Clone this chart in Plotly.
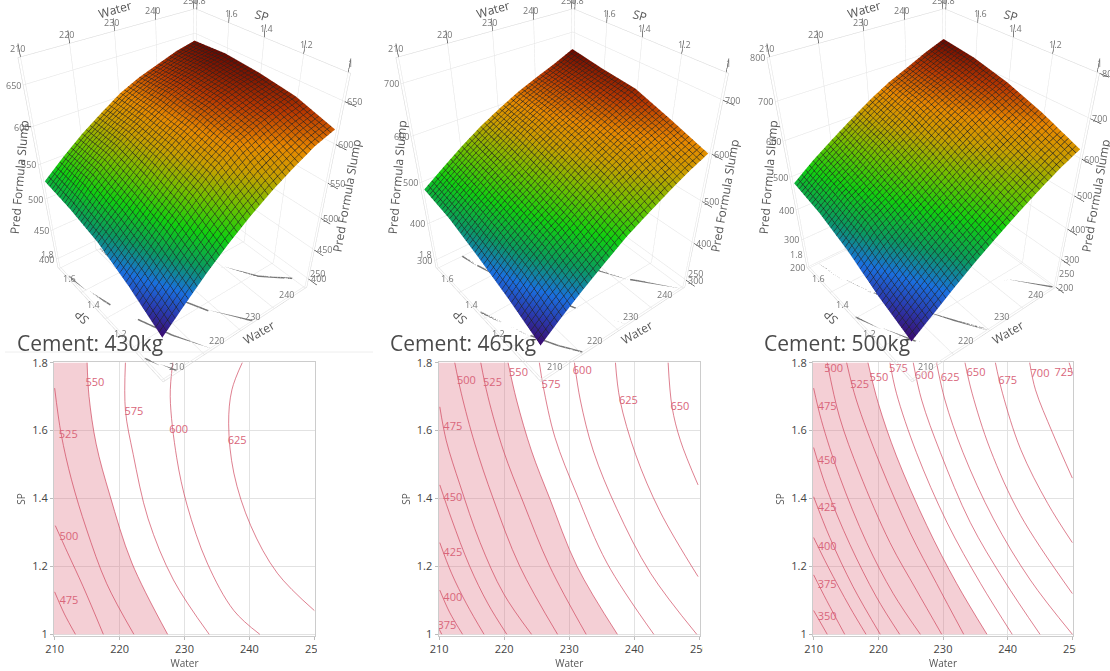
import plotly.graph_objects as go

WATER_GRID = [210, 215, 220, 225, 230, 235, 240, 245, 250]
SP_GRID = [1.0, 1.2, 1.4, 1.6, 1.8]

Z430 = [
    [456, 485, 513, 538, 560, 579, 595, 609, 618],
    [485, 512, 540, 565, 588, 606, 617, 626, 633],
    [508, 532, 556, 581, 600, 616, 627, 635, 640],
    [520, 548, 570, 589, 605, 620, 630, 638, 644],
    [527, 550, 571, 589, 606, 618, 627, 636, 642],
]
Z465 = [
    [372, 411, 447, 480, 512, 537, 561, 583, 601],
    [410, 453, 487, 514, 543, 571, 594, 611, 627],
    [442, 481, 510, 537, 567, 593, 613, 633, 651],
    [470, 501, 531, 557, 586, 609, 628, 644, 658],
    [485, 516, 546, 573, 596, 617, 634, 650, 668],
]
Z500 = [
    [332, 376, 421, 463, 501, 537, 570, 600, 625],
    [372, 420, 465, 503, 537, 574, 606, 636, 664],
    [425, 476, 508, 541, 578, 614, 645, 672, 695],
    [462, 503, 536, 576, 610, 644, 670, 692, 716],
    [483, 525, 562, 597, 631, 660, 683, 707, 727],
]

# contour lines: level -> (water, sp)
C430 = {
    475: ([210, 211.5, 213.2], [1.125, 1.06, 1.0]),
    500: ([210.1, 212, 214.4, 217.5], [1.32, 1.24, 1.14, 1.0]),
    525: ([210, 211, 212.6, 214.9, 218, 222.2], [1.725, 1.59, 1.455, 1.31, 1.15, 1.0]),
    550: ([215, 215.3, 216.4, 218.5, 221.9, 227.4], [1.8, 1.7, 1.56, 1.41, 1.21, 1.0]),
    575: ([220.9, 220.9, 222.1, 224.4, 228.3, 233.8], [1.8, 1.66, 1.53, 1.34, 1.16, 1.0]),
    600: ([228.2, 227.8, 228.8, 230.4, 233.5, 237.6, 241.6], [1.8, 1.7, 1.52, 1.38, 1.21, 1.07, 1.0]),
    625: ([238.9, 237.3, 236.8, 237.6, 240.2, 244.3, 250], [1.8, 1.72, 1.62, 1.475, 1.32, 1.18, 1.07]),
}
C465 = {
    375: ([210, 210.4], [1.015, 1.0]),
    400: ([210.1, 211.6, 213.6], [1.13, 1.065, 1.0]),
    425: ([210.1, 211.9, 214.2, 216.9], [1.27, 1.18, 1.09, 1.0]),
    450: ([210.1, 211.9, 214.7, 217.5, 220.4], [1.44, 1.34, 1.2, 1.09, 1.0]),
    475: ([210.1, 211.1, 213.2, 216.3, 219.9, 224.2], [1.67, 1.57, 1.44, 1.27, 1.12, 1.0]),
    500: ([212.4, 213.4, 215.5, 218.3, 222.4, 228.2], [1.8, 1.71, 1.56, 1.4, 1.2, 1.0]),
    525: ([216.4, 217.5, 219.9, 222.9, 227, 232.6], [1.8, 1.7, 1.54, 1.39, 1.2, 1.0]),
    550: ([220.6, 221.9, 224.2, 227, 231.2, 237.4], [1.8, 1.69, 1.54, 1.4, 1.2, 1.0]),
    575: ([225.4, 226, 227.8, 231.2, 235.8, 243], [1.8, 1.73, 1.58, 1.41, 1.21, 1.0]),
    600: ([230.8, 231.7, 233.7, 237.3, 242.5, 249.6], [1.8, 1.69, 1.54, 1.37, 1.18, 1.0]),
    625: ([237.1, 237.8, 240.2, 244, 249.8], [1.8, 1.69, 1.53, 1.36, 1.17]),
    650: ([245.2, 245.8, 247.1, 249.8], [1.8, 1.67, 1.57, 1.44]),
}
C500 = {
    350: ([210, 212.1], [1.07, 1.0]),
    375: ([210, 212, 214.8], [1.175, 1.1, 1.0]),
    400: ([210, 212.2, 215.6, 218.1], [1.285, 1.2, 1.08, 1.0]),
    425: ([210, 212.5, 216.1, 220.3], [1.405, 1.285, 1.14, 1.0]),
    450: ([210, 212, 215.6, 219.7, 223.3], [1.55, 1.43, 1.265, 1.11, 1.0]),
    475: ([210, 211.2, 214, 218.2, 222.3, 226.5], [1.725, 1.63, 1.465, 1.27, 1.12, 1.0]),
    500: ([212.1, 214, 217.1, 221.8, 225.9, 229.8], [1.8, 1.64, 1.475, 1.27, 1.13, 1.0]),
    525: ([215.1, 216.6, 220.2, 224.9, 229, 233.2], [1.8, 1.69, 1.505, 1.3, 1.15, 1.0]),
    550: ([218.4, 220, 222.8, 227.5, 232.1, 236.8], [1.8, 1.68, 1.525, 1.32, 1.15, 1.0]),
    575: ([221.8, 222.8, 225.9, 230.6, 235.8, 240.7], [1.8, 1.71, 1.535, 1.33, 1.15, 1.0]),
    600: ([225.4, 226.7, 229.6, 234.2, 239.4, 245], [1.8, 1.69, 1.535, 1.33, 1.16, 1.0]),
    625: ([229, 230.3, 233.1, 237.8, 243.5, 250], [1.8, 1.69, 1.535, 1.34, 1.16, 1.0]),
    650: ([233.4, 234.5, 237.3, 242, 250], [1.8, 1.71, 1.545, 1.35, 1.12]),
    675: ([238.1, 239.2, 242, 246.2, 250], [1.8, 1.71, 1.545, 1.385, 1.27]),
    700: ([243.4, 244.3, 246.9, 250], [1.8, 1.72, 1.595, 1.46]),
    725: ([249.5, 250], [1.8, 1.77]),
}
L430_W = [212.2, 212.2, 212.1, 216.2, 222.2, 229.1, 238.1]
L430_S = [1.096, 1.285, 1.587, 1.74, 1.655, 1.6, 1.57]
L430_T = ["475", "500", "525", "550", "575", "600", "625"]
L465_W = [211.2, 212.1, 212.1, 212.1, 212.1, 214.2, 218.2, 222.2, 227.2, 232, 239.1, 247]
L465_S = [1.025, 1.105, 1.24, 1.4, 1.61, 1.745, 1.74, 1.77, 1.735, 1.775, 1.685, 1.67]
L465_T = ["375", "400", "425", "450", "475", "500", "525", "550", "575", "600", "625", "650"]
L500_W = [212.1, 212.1, 212.1, 212.1, 212.1, 212.1, 213.1, 217.1, 220.1, 223.1, 227.1, 231.1, 235.1, 240, 245, 248.7]
L500_S = [1.05, 1.145, 1.255, 1.37, 1.51, 1.67, 1.78, 1.735, 1.755, 1.78, 1.76, 1.755, 1.77, 1.745, 1.765, 1.77]
L500_T = ["350", "375", "400", "425", "450", "475", "500", "525", "550", "575", "600", "625", "650", "675", "700", "725"]

FILL_LEVEL = 550
WATER_TICKS = [210, 220, 230, 240, 250]
SP_TICKS = [1, 1.2, 1.4, 1.6, 1.8]
WATER_BOX = [209.5, 250.5]
SP_BOX = [0.99, 1.81]
Z_TICKS_430 = [400, 450, 500, 550, 600, 650]
Z_TICKS_465 = [300, 400, 500, 600, 700]
Z_TICKS_500 = [200, 300, 400, 500, 600, 700, 800]
TITLES = ["Cement: 430kg", "Cement: 465kg", "Cement: 500kg"]

COLORS = [[0, "#3b0a6e"], [0.1, "#2a3bb0"], [0.2, "#1a70e0"], [0.32, "#0a9a60"], [0.45, "#10d010"],
          [0.58, "#70c000"], [0.7, "#c8a000"], [0.8, "#e88800"], [0.9, "#b83800"], [1, "#6a0800"]]
W, H = 1110, 671
GREY = "#555555"
TICK = "#777777"
LINE = "rgba(205,60,85,0.65)"

panels = [
    dict(z=Z430, c=C430, lw=L430_W, ls=L430_S, lt=L430_T, zt=Z_TICKS_430, zr=[385, 680], floor=[625, 575, 525, 475],
         dom=(0, 360), px=(54, 315), title_x=15, cut=317),
    dict(z=Z465, c=C465, lw=L465_W, ls=L465_S, lt=L465_T, zt=Z_TICKS_465, zr=[280, 745], floor=[600, 525, 450],
         dom=(372, 744), px=(438.5, 700), title_x=388, cut=703),
    dict(z=Z500, c=C500, lw=L500_W, ls=L500_S, lt=L500_T, zt=Z_TICKS_500, zr=[200, 800], floor=[625, 500, 425],
         dom=(749, 1109), px=(813, 1073), title_x=762, cut=1076),
]

fig = go.Figure()
annotations = []
shapes = []
scene_keys = ["scene", "scene2", "scene3"]
xa_names = ["xaxis", "xaxis2", "xaxis3"]
ya_names = ["yaxis", "yaxis2", "yaxis3"]
layout = {}


def label(x, y, z, text, dx=0, dy=0, angle=0, size=9, color=TICK):
    return dict(x=x, y=y, z=z, text=text, showarrow=False, xshift=dx, yshift=dy, textangle=angle,
                font=dict(size=size, color=color, family="Open Sans"))


for i, p in enumerate(panels):
    sk = scene_keys[i]
    zmin, zmax = p["zr"]
    zmid = (zmin + zmax) / 2
    flat = [v for row in p["z"] for v in row]
    fig.add_trace(go.Surface(
        x=WATER_GRID, y=SP_GRID, z=p["z"], scene=sk, colorscale=COLORS, showscale=False,
        cmin=min(flat), cmax=max(flat), hoverinfo="skip",
        lighting=dict(ambient=1.0, diffuse=0.0, specular=0.0, roughness=1, fresnel=0),
        contours=dict(
            x=dict(show=True, start=210, end=250, size=1, color="#222222", width=1),
            y=dict(show=True, start=1.0, end=1.8, size=0.02, color="#222222", width=1),
            z=dict(show=False),
        ),
    ))
    for lv in p["floor"]:
        wx, sy = p["c"][lv]
        fig.add_trace(go.Scatter3d(x=wx, y=sy, z=[zmin] * len(wx), scene=sk, mode="lines",
                                   line=dict(color="#777777", width=3), hoverinfo="skip", showlegend=False))
    axis = dict(showbackground=False, gridcolor="#e2e2e2", gridwidth=1, showline=True, linecolor="#d5d5d5", mirror="all",
                zeroline=False, showspikes=False, showticklabels=False, ticks="", title=dict(text=""))
    wlo, whi = WATER_BOX[0] + 0.05, WATER_BOX[1] - 0.05
    slo, shi = SP_BOX[0] + 0.001, SP_BOX[1] - 0.001
    top, bot = zmax - 0.1, zmin + 0.1
    sa = []
    for w in WATER_TICKS:
        sa.append(label(w, shi, top, str(w), dx=-3, dy=9))
        sa.append(label(w, slo, bot, str(w), dx=12, dy=14))
    for s in SP_TICKS:
        sa.append(label(whi, s, top, str(s), dx=3, dy=9))
        if s > 1:
            sa.append(label(wlo, s, bot, str(s), dx=-12, dy=14))
    for v in p["zt"]:
        sa.append(label(wlo, shi, v, str(v), dx=-10))
        sa.append(label(whi, slo, v, str(v), dx=10))
    sa.append(label(230, shi, top, "Water", dx=0, dy=22, angle=-16, size=12, color=GREY))
    sa.append(label(whi, 1.4, top, "SP", dx=-2, dy=22, angle=16, size=12, color=GREY))
    sa.append(label(wlo, shi, zmid, "Pred Formula Slump", dx=-22, angle=-85, size=12, color=GREY))
    sa.append(label(whi, slo, zmid, "Pred Formula Slump", dx=22, angle=-80, size=12, color=GREY))
    sa.append(label(230, slo, bot, "Water", dx=18, dy=-2, angle=-30, size=12, color=GREY))
    sa.append(label(wlo, 1.4, bot, "SP", dx=-24, dy=2, angle=225, size=12, color=GREY))
    layout[sk] = dict(
        domain=dict(x=[p["dom"][0] / W, p["dom"][1] / W], y=[1 - 470 / H, 1.0]),
        aspectmode="manual", aspectratio=dict(x=1, y=1, z=1.25),
        camera=dict(eye=dict(x=-1.43, y=-1.795, z=1.624), center=dict(x=0, y=0, z=-0.314), up=dict(x=0, y=0, z=1)),
        xaxis=dict(axis, range=WATER_BOX, tickvals=WATER_TICKS),
        yaxis=dict(axis, range=SP_BOX, tickvals=SP_TICKS),
        zaxis=dict(axis, range=p["zr"], tickvals=p["zt"]),
        annotations=sa,
    )

    # contour panel
    xn = "x" + ("" if i == 0 else str(i + 1))
    yn = "y" + ("" if i == 0 else str(i + 1))
    fw, fs = p["c"][FILL_LEVEL]
    fig.add_trace(go.Scatter(x=fw, y=fs, xaxis=xn, yaxis=yn, mode="lines", fill="tozerox",
                             fillcolor="rgba(222,105,125,0.32)", line=dict(width=0, shape="spline"),
                             hoverinfo="skip", showlegend=False))
    for lv, (wx, sy) in p["c"].items():
        fig.add_trace(go.Scatter(x=wx, y=sy, xaxis=xn, yaxis=yn, mode="lines",
                                 line=dict(color=LINE, width=1, shape="spline", smoothing=1),
                                 hoverinfo="skip", showlegend=False))
    fig.add_trace(go.Scatter(x=p["lw"], y=p["ls"], text=p["lt"], xaxis=xn, yaxis=yn, mode="text",
                             textfont=dict(size=11, color="#d9667a", family="Open Sans"),
                             hoverinfo="skip", showlegend=False))
    ax = dict(showgrid=True, gridcolor="#e2e2e2", gridwidth=1, zeroline=False, showline=True, linecolor="#cccccc",
              linewidth=1, mirror=True, ticks="outside", ticklen=3, tickcolor="#bbbbbb",
              tickfont=dict(size=11, color="#444444", family="Open Sans"))
    layout[xa_names[i]] = dict(ax, domain=[p["px"][0] / W, p["px"][1] / W], range=[209.9, 250.1], tickvals=WATER_TICKS,
                               anchor=yn, title=dict(text="Water", font=dict(size=10, color=GREY, family="Open Sans"), standoff=4))
    layout[ya_names[i]] = dict(ax, domain=[1 - 636 / H, 1 - 362 / H], range=[0.995, 1.802], tickvals=SP_TICKS,
                               ticktext=["1", "1.2", "1.4", "1.6", "1.8"], anchor=xn,
                               title=dict(text="SP", font=dict(size=10, color=GREY, family="Open Sans"), standoff=4))
    annotations.append(dict(xref="paper", yref="paper", x=p["title_x"] / W, y=1 - 343 / H, xanchor="left", yanchor="middle",
                            text=TITLES[i], showarrow=False, font=dict(size=21, color="#4a4a4a", family="Open Sans")))
    shapes.append(dict(type="rect", xref="paper", yref="paper", x0=p["cut"] / W, x1=(p["cut"] + 12) / W,
                       y0=1 - 655 / H, y1=1 - 640 / H, fillcolor="white", line=dict(width=0), layer="above"))

shapes.append(dict(type="line", xref="paper", yref="paper", x0=5 / W, x1=373 / W, y0=1 - 352 / H, y1=1 - 352 / H,
                   line=dict(color="#eeeeee", width=1)))
fig.update_layout(width=W, height=H, margin=dict(l=0, r=0, t=0, b=0, autoexpand=False), paper_bgcolor="white",
                  plot_bgcolor="white", showlegend=False, annotations=annotations, shapes=shapes, **layout)
fig.write_html("out.html", post_script="document.body.style.margin='0';", config=dict(displayModeBar=False))
